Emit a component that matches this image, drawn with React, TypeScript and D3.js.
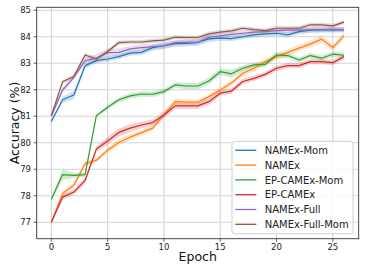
import React from 'react';
import * as d3 from 'd3';

const epochs = d3.range(0, 27);

const seriesNames = ['NAMEx-Mom', 'NAMEx', 'EP-CAMEx-Mom', 'EP-CAMEx', 'NAMEx-Full', 'NAMEx-Full-Mom'];
const seriesColors = ['#1f77b4', '#ff7f0e', '#2ca02c', '#d62728', '#9467bd', '#8c564b'];

const namexMom = [80.80, 81.62, 81.80, 82.91, 83.10, 83.16, 83.25, 83.38, 83.41, 83.59, 83.66, 83.74, 83.75, 83.79, 83.92, 83.95, 83.93, 84.00, 84.07, 84.11, 84.13, 84.07, 84.19, 84.25, 84.26, 84.26, 84.27];
const namex = [77.00, 78.08, 78.40, 79.21, 79.34, 79.72, 80.02, 80.21, 80.38, 80.55, 81.05, 81.55, 81.53, 81.53, 81.74, 81.99, 82.25, 82.62, 82.81, 83.06, 83.25, 83.41, 83.57, 83.72, 83.91, 83.59, 84.04];
const epCamexMom = [77.87, 78.80, 78.77, 78.80, 81.02, 81.34, 81.62, 81.77, 81.84, 81.83, 81.93, 82.18, 82.14, 82.14, 82.33, 82.68, 82.60, 82.81, 82.94, 82.96, 83.31, 83.29, 83.12, 83.29, 83.19, 83.34, 83.30];
const epCamex = [77.00, 77.95, 78.14, 78.58, 79.76, 80.07, 80.39, 80.55, 80.67, 80.76, 81.05, 81.39, 81.39, 81.39, 81.55, 81.87, 81.95, 82.31, 82.43, 82.58, 82.81, 82.91, 82.91, 83.06, 83.06, 83.02, 83.25];
const namexFull = [81.00, 81.99, 82.47, 83.10, 83.19, 83.40, 83.41, 83.54, 83.59, 83.63, 83.66, 83.78, 83.79, 83.79, 83.98, 84.03, 84.09, 84.13, 84.17, 84.19, 84.23, 84.25, 84.25, 84.26, 84.27, 84.28, 84.27];
const namexFullMom = [81.02, 82.30, 82.50, 83.31, 83.16, 83.44, 83.78, 83.80, 83.80, 83.84, 83.87, 83.98, 83.97, 83.97, 84.11, 84.17, 84.22, 84.32, 84.27, 84.23, 84.32, 84.32, 84.32, 84.45, 84.45, 84.41, 84.55];

// spread of the shaded bands
const namexMomStd = [0.05, 0.12, 0.15, 0.12, 0.1, 0.1, 0.1, 0.1, 0.1, 0.12, 0.12, 0.12, 0.12, 0.12, 0.12, 0.1, 0.1, 0.1, 0.1, 0.1, 0.1, 0.1, 0.1, 0.1, 0.1, 0.1, 0.1];
const namexStd = [0.05, 0.1, 0.1, 0.1, 0.08, 0.1, 0.12, 0.12, 0.1, 0.1, 0.12, 0.12, 0.1, 0.1, 0.1, 0.1, 0.1, 0.12, 0.12, 0.12, 0.12, 0.12, 0.12, 0.12, 0.15, 0.12, 0.12];
const epCamexMomStd = [0.05, 0.2, 0.1, 0.08, 0.05, 0.08, 0.1, 0.1, 0.1, 0.1, 0.1, 0.1, 0.12, 0.12, 0.12, 0.12, 0.15, 0.1, 0.1, 0.1, 0.1, 0.1, 0.1, 0.1, 0.1, 0.1, 0.1];
const epCamexStd = [0.05, 0.1, 0.1, 0.12, 0.1, 0.15, 0.15, 0.15, 0.12, 0.12, 0.12, 0.12, 0.12, 0.12, 0.12, 0.1, 0.1, 0.1, 0.1, 0.1, 0.1, 0.1, 0.1, 0.1, 0.1, 0.1, 0.1];
const namexFullStd = [0.05, 0.1, 0.1, 0.12, 0.15, 0.15, 0.15, 0.12, 0.12, 0.1, 0.1, 0.1, 0.1, 0.1, 0.1, 0.1, 0.1, 0.1, 0.1, 0.1, 0.1, 0.1, 0.1, 0.1, 0.1, 0.1, 0.1];
const namexFullMomStd = [0.05, 0.08, 0.08, 0.08, 0.08, 0.08, 0.08, 0.08, 0.08, 0.08, 0.08, 0.08, 0.08, 0.08, 0.08, 0.08, 0.08, 0.08, 0.08, 0.08, 0.08, 0.08, 0.08, 0.08, 0.08, 0.08, 0.08];

const seriesValues = [namexMom, namex, epCamexMom, epCamex, namexFull, namexFullMom];
const seriesStd = [namexMomStd, namexStd, epCamexMomStd, epCamexStd, namexFullStd, namexFullMomStd];

const xTicks = [0, 5, 10, 15, 20, 25];
const yTicks = [77, 78, 79, 80, 81, 82, 83, 84, 85];

const W = 366;
const H = 274;
const plot = { left: 36.7, right: 358.7, top: 7.3, bottom: 238.7 };
const font = 'DejaVu Sans, sans-serif';

export default function App() {
  const x = d3.scaleLinear().domain([-1.3, 27.3]).range([plot.left, plot.right]);
  const y = d3.scaleLinear().domain([76.38, 85.11]).range([plot.bottom, plot.top]);

  const line = d3.line<number>().x((_, i) => x(epochs[i])).y(d => y(d));

  const band = (vals: number[], sd: number[]) =>
    d3.area<number>()
      .x((_, i) => x(epochs[i]))
      .y0((d, i) => y(d - sd[i]))
      .y1((d, i) => y(d + sd[i]))(vals) || '';

  const legendX = 232;
  const legendY = 141.3;
  const rowH = 14.8;

  return (
    <svg width={W} height={H} style={{ position: 'absolute', left: 0, top: 0, background: '#fff' }}>
      <defs>
        <clipPath id="plot-clip">
          <rect x={plot.left} y={plot.top} width={plot.right - plot.left} height={plot.bottom - plot.top} />
        </clipPath>
      </defs>

      {/* grid */}
      {xTicks.map(t => (
        <line key={'gx' + t} x1={x(t)} x2={x(t)} y1={plot.top} y2={plot.bottom} stroke="#d4d4d4" strokeWidth={1.1} />
      ))}
      {yTicks.map(t => (
        <line key={'gy' + t} x1={plot.left} x2={plot.right} y1={y(t)} y2={y(t)} stroke="#d4d4d4" strokeWidth={1.1} />
      ))}

      <g clipPath="url(#plot-clip)">
        {seriesValues.map((vals, i) => (
          <path key={'b' + i} d={band(vals, seriesStd[i])} fill={seriesColors[i]} fillOpacity={0.22} stroke="none" />
        ))}
        {seriesValues.map((vals, i) => (
          <path key={'l' + i} d={line(vals) || ''} fill="none" stroke={seriesColors[i]} strokeWidth={1.2} strokeLinejoin="round" />
        ))}
      </g>

      {/* frame */}
      <rect x={plot.left} y={plot.top} width={plot.right - plot.left} height={plot.bottom - plot.top}
        fill="none" stroke="#333" strokeWidth={0.9} />

      {/* tick marks */}
      {xTicks.map(t => (
        <line key={'kx' + t} x1={x(t)} x2={x(t)} y1={plot.bottom} y2={plot.bottom + 3} stroke="#333" strokeWidth={0.8} />
      ))}
      {yTicks.map(t => (
        <line key={'ky' + t} x1={plot.left - 3} x2={plot.left} y1={y(t)} y2={y(t)} stroke="#333" strokeWidth={0.8} />
      ))}

      {/* tick labels */}
      {xTicks.map(t => (
        <text key={'tx' + t} x={x(t)} y={249.7} textAnchor="middle" fontFamily={font} fontSize={8.5} fill="#222">{t}</text>
      ))}
      {yTicks.map(t => (
        <text key={'ty' + t} x={31} y={y(t)} dy="0.35em" textAnchor="end" fontFamily={font} fontSize={8.5} fill="#222">{t}</text>
      ))}

      {/* axis labels */}
      <text x={(plot.left + plot.right) / 2} y={261} textAnchor="middle" fontFamily={font} fontSize={12.5} fill="#111">Epoch</text>
      <text transform={`translate(18.5, ${(plot.top + plot.bottom) / 2}) rotate(-90)`} textAnchor="middle"
        fontFamily={font} fontSize={12.5} fill="#111">Accuracy (%)</text>

      {/* legend */}
      <rect x={legendX} y={legendY} width={121} height={92.4} rx={2.5} fill="#fff" fillOpacity={0.85} stroke="#cccccc" strokeWidth={0.9} />
      {seriesNames.map((name, i) => {
        const cy = 150.3 + i * rowH;
        return (
          <g key={'lg' + i}>
            <line x1={235.3} x2={256.3} y1={cy} y2={cy} stroke={seriesColors[i]} strokeWidth={1.3} />
            <text x={264.7} y={cy} dy="0.36em" fontFamily={font} fontSize={10} fill="#222">{name}</text>
          </g>
        );
      })}
    </svg>
  );
}
